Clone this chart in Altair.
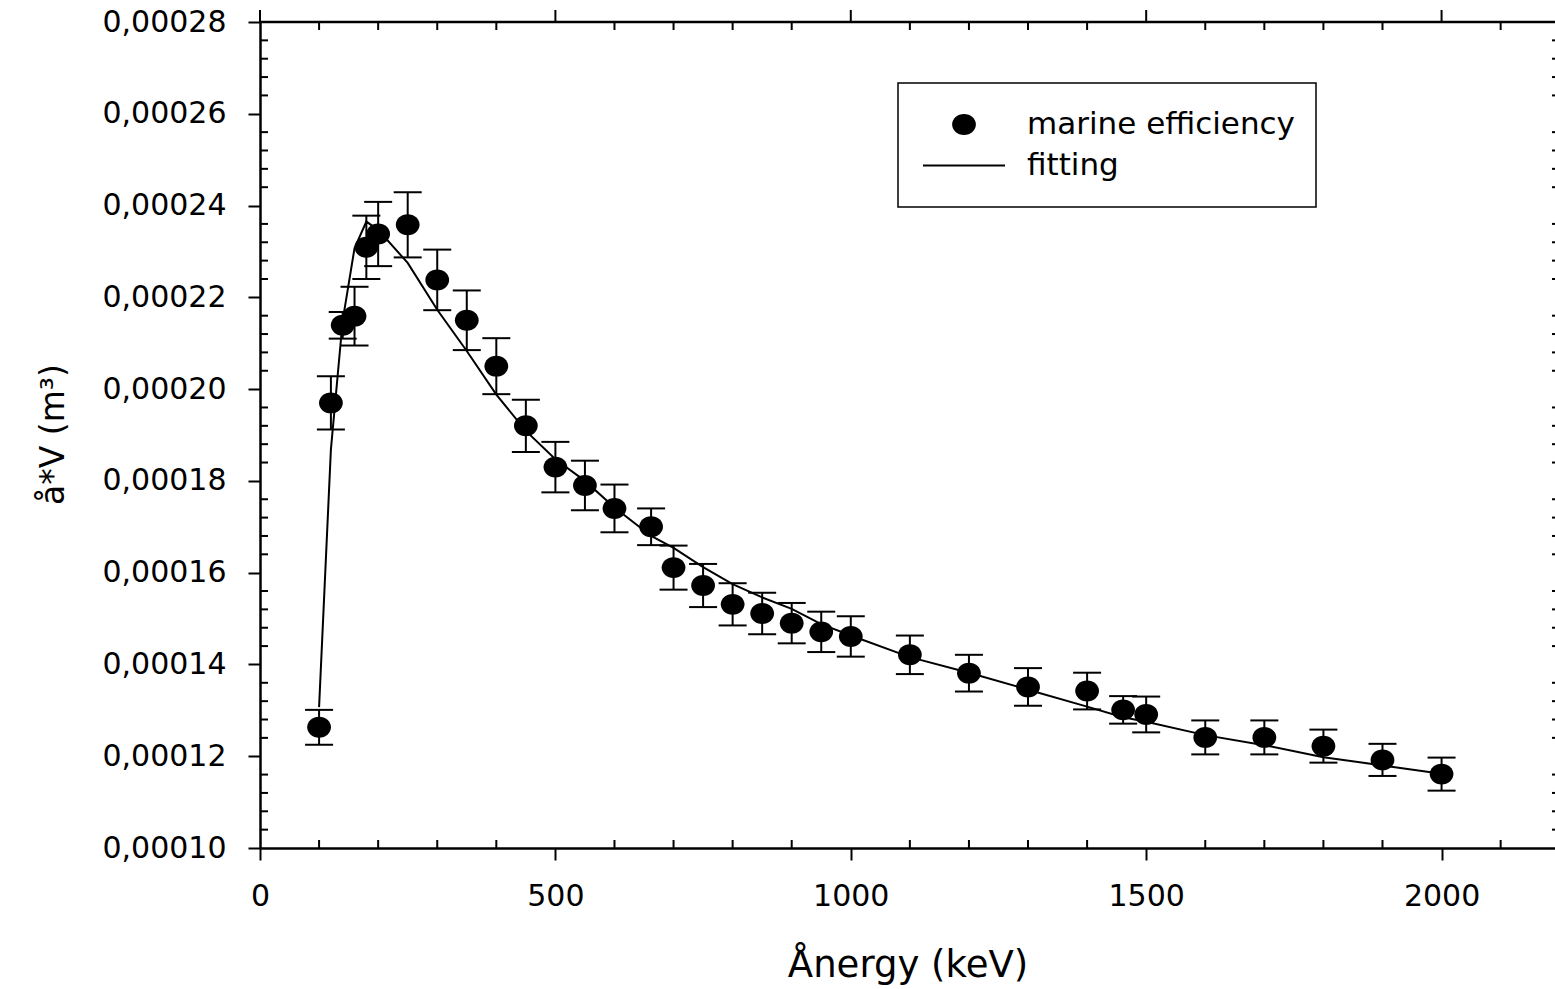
import altair as alt
import pandas as pd

FONT = "DejaVu Sans"

# ---- data ----
energy = [100, 120, 140, 160, 180, 200, 250, 300, 350, 400, 450, 500, 550, 600, 662,
          700, 750, 800, 850, 900, 950, 1000, 1100, 1200, 1300, 1400, 1461, 1500,
          1600, 1700, 1800, 1900, 2000]
efficiency = [0.0001263, 0.0001970, 0.0002139, 0.0002159, 0.0002309, 0.0002338, 0.0002358,
              0.0002238, 0.0002150, 0.0002050, 0.0001920, 0.0001830, 0.0001790, 0.0001740,
              0.0001700, 0.0001611, 0.0001572, 0.0001531, 0.0001511, 0.0001490, 0.0001471,
              0.0001461, 0.0001421, 0.0001381, 0.0001351, 0.0001342, 0.0001301, 0.0001291,
              0.0001241, 0.0001241, 0.0001222, 0.0001192, 0.0001161]
error = [0.0000038, 0.0000058, 0.0000029, 0.0000064, 0.0000069, 0.0000070, 0.0000071,
         0.0000066, 0.0000065, 0.0000061, 0.0000057, 0.0000055, 0.0000054, 0.0000052,
         0.0000040, 0.0000048, 0.0000047, 0.0000046, 0.0000045, 0.0000044, 0.0000044,
         0.0000044, 0.0000042, 0.0000040, 0.0000041, 0.0000040, 0.0000030, 0.0000039,
         0.0000037, 0.0000037, 0.0000036, 0.0000035, 0.0000036]
fit = [0.0001307, 0.0001868, 0.0002150, 0.0002307, 0.0002365, 0.0002347, 0.0002275,
       0.0002173, 0.0002083, 0.0001988, 0.0001909, 0.0001847, 0.0001800, 0.0001742,
       0.0001680, 0.0001654, 0.0001612, 0.0001575, 0.0001546, 0.0001521, 0.0001488,
       0.0001463, 0.0001416, 0.0001382, 0.0001345, 0.0001308, 0.0001285, 0.0001275,
       0.0001246, 0.0001224, 0.0001198, 0.0001180, 0.0001162]

series_names = ["marine efficiency", "fitting"]

x_major = [0, 500, 1000, 1500, 2000]
x_minor = [100, 200, 300, 400, 600, 700, 800, 900, 1100, 1200, 1300, 1400,
           1600, 1700, 1800, 1900, 2100]
y_major = [0.00010, 0.00012, 0.00014, 0.00016, 0.00018, 0.00020, 0.00022,
           0.00024, 0.00026, 0.00028]
y_minor = [0.000104, 0.000108, 0.000112, 0.000116,
           0.000124, 0.000128, 0.000132, 0.000136,
           0.000144, 0.000148, 0.000152, 0.000156,
           0.000164, 0.000168, 0.000172, 0.000176,
           0.000184, 0.000188, 0.000192, 0.000196,
           0.000204, 0.000208, 0.000212, 0.000216,
           0.000224, 0.000228, 0.000232, 0.000236,
           0.000244, 0.000248, 0.000252, 0.000256,
           0.000264, 0.000268, 0.000272, 0.000276]

# ---- tables ----
df = pd.DataFrame({"energy": energy, "eff": efficiency, "err": error, "fit": fit})
df["lo"] = df["eff"] - df["err"]
df["hi"] = df["eff"] + df["err"]
df["series"] = series_names[0]
dx_minor = pd.DataFrame({"v": x_minor})
dx_major = pd.DataFrame({"v": x_major})
dy_minor = pd.DataFrame({"v": y_minor})
one_row = pd.DataFrame({"k": [0]})

W, H = 1295, 826
xscale = alt.Scale(domain=[0, 2192], nice=False, zero=False)
yscale = alt.Scale(domain=[0.0001, 0.00028], nice=False, zero=False)

common_axis = dict(domainColor="black", domainWidth=2.5, tickColor="black", tickWidth=2,
                   tickSize=12, grid=False, labelFont=FONT, labelColor="black",
                   labelFontSize=30, titleFont=FONT, titleColor="black",
                   titleFontWeight="normal", labelOverlap=False)

bottom_axis = alt.Axis(orient="bottom", values=x_major, format="d", labelPadding=21,
                       labelFlush=False,
                       title="Ånergy (keV)", titleFontSize=37, titleY=128,
                       titleBaseline="alphabetic", **common_axis)
left_axis = alt.Axis(orient="left", values=y_major, format=".5f",
                     labelPadding=22,
                     title="å*V (m³)", titleFontSize=33, titleAngle=270,
                     titleX=-197, titleY=412, titleBaseline="alphabetic",
                     titleAlign="center", **common_axis)

# legend symbols (unit box -1..1, scaled to sqrt(symbolSize) = 82 px)
ellipse_path = "M-0.29,0A0.29,0.255,0,1,0,0.29,0A0.29,0.255,0,1,0,-0.29,0Z"
line_path = "M-1,-0.025L1,-0.025L1,0.025L-1,0.025Z"

legend = alt.Legend(title=None, orient="none", legendX=638, legendY=61,
                    direction="vertical", symbolSize=6724, symbolFillColor="black",
                    symbolStrokeWidth=0, symbolOpacity=1,
                    labelFont=FONT, labelFontSize=31, labelColor="black",
                    labelOffset=22, symbolOffset=4, clipHeight=41, rowPadding=0,
                    padding=21, strokeColor="black", fillColor="white", labelLimit=500)

points = alt.Chart(df).mark_point(filled=True, size=6724, opacity=1, color="black").encode(
    x=alt.X("energy:Q", scale=xscale, axis=bottom_axis),
    y=alt.Y("eff:Q", scale=yscale, axis=left_axis),
    shape=alt.Shape("series:N",
                    scale=alt.Scale(domain=series_names, range=[ellipse_path, line_path]),
                    legend=legend),
)
err_rules = alt.Chart(df).mark_rule(color="black", strokeWidth=2).encode(
    x=alt.X("energy:Q", scale=xscale),
    y=alt.Y("lo:Q", scale=yscale),
    y2="hi:Q",
)
caps_lo = alt.Chart(df).mark_tick(orient="horizontal", size=28, thickness=2,
                                  color="black", opacity=1).encode(
    x=alt.X("energy:Q", scale=xscale),
    y=alt.Y("lo:Q", scale=yscale),
)
caps_hi = alt.Chart(df).mark_tick(orient="horizontal", size=28, thickness=2,
                                  color="black", opacity=1).encode(
    x=alt.X("energy:Q", scale=xscale),
    y=alt.Y("hi:Q", scale=yscale),
)
fit_line = alt.Chart(df).mark_line(color="black", strokeWidth=2).encode(
    x=alt.X("energy:Q", scale=xscale),
    y=alt.Y("fit:Q", scale=yscale),
)

# frame: top border line, outward major ticks on top, inward minor ticks on all sides
top_border = alt.Chart(one_row).mark_rule(color="black", strokeWidth=2.5).encode(
    x=alt.value(0), x2=alt.value(W), y=alt.value(0))
top_major = alt.Chart(dx_major).mark_rule(color="black", strokeWidth=2).encode(
    x=alt.X("v:Q", scale=xscale), y=alt.value(0), y2=alt.value(-12))
bottom_minor = alt.Chart(dx_minor).mark_rule(color="black", strokeWidth=2).encode(
    x=alt.X("v:Q", scale=xscale), y=alt.value(H), y2=alt.value(H - 8))
top_minor = alt.Chart(dx_minor).mark_rule(color="black", strokeWidth=2).encode(
    x=alt.X("v:Q", scale=xscale), y=alt.value(0), y2=alt.value(8))
left_minor = alt.Chart(dy_minor).mark_rule(color="black", strokeWidth=2).encode(
    y=alt.Y("v:Q", scale=yscale), x=alt.value(0), x2=alt.value(8))
right_minor = alt.Chart(dy_minor).mark_rule(color="black", strokeWidth=2).encode(
    y=alt.Y("v:Q", scale=yscale), x=alt.value(W - 3), x2=alt.value(W))

chart = alt.layer(
    points, err_rules, caps_lo, caps_hi, fit_line,
    top_border, top_major, bottom_minor, top_minor, left_minor, right_minor,
).properties(
    width=W, height=H,
    padding={"left": 260, "top": 22, "right": 0, "bottom": 141},
    autosize=alt.AutoSizeParams(type="none"),
    background="white",
).configure_view(stroke="transparent").configure(
    font=FONT,
    locale={"number": {"decimal": ",", "thousands": ".", "grouping": [3],
                       "currency": ["", ""]}},
).configure_legend(strokeWidth=1.5)

chart.save("out.html", embed_options={"renderer": "svg", "actions": False})
